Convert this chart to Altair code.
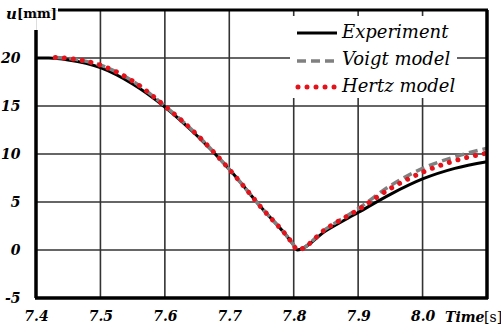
import altair as alt
import pandas as pd

# Displacement histories u(t) around the impact
t_exp = [7.40, 7.42, 7.45, 7.50, 7.55, 7.60, 7.65, 7.70, 7.75, 7.80, 7.805, 7.85, 7.90, 7.95, 8.00, 8.05, 8.10]
u_exp = [20.0, 20.0, 19.8, 19.0, 17.3, 14.9, 11.9, 8.4, 4.4, 0.5, 0.0, 2.0, 3.9, 5.8, 7.4, 8.5, 9.2]

t_mod = [7.43, 7.45, 7.50, 7.55, 7.60, 7.65, 7.70, 7.75, 7.80, 7.805, 7.85, 7.90, 7.95, 8.00, 8.05, 8.10]
u_voigt = [20.05, 19.95, 19.25, 17.6, 15.0, 12.0, 8.4, 4.4, 0.5, 0.0, 2.2, 4.3, 6.7, 8.5, 9.7, 10.6]
u_hertz = [20.05, 19.95, 19.25, 17.6, 15.0, 12.0, 8.4, 4.4, 0.5, 0.0, 2.2, 4.2, 6.4, 8.1, 9.3, 10.1]

series_names = ["Experiment", "Voigt model", "Hertz model"]

x_ticks = [7.4, 7.5, 7.6, 7.7, 7.8, 7.9, 8.0]
y_ticks = [-5, 0, 5, 10, 15, 20]

W, H = 451, 288
FONT = "DejaVu Serif"

xs = alt.Scale(domain=[7.4, 8.1], nice=False, zero=False)
ys = alt.Scale(domain=[-5, 25], nice=False, zero=False)

exp_df = pd.DataFrame({"t": t_exp, "u": u_exp})
voigt_df = pd.DataFrame({"t": t_mod, "u": u_voigt})
hertz_df = pd.DataFrame({"t": t_mod, "u": u_hertz})

x_axis = alt.Axis(
    values=x_ticks, format=".1f", grid=False, domain=False, ticks=False, labelFlush=False,
    labelFont=FONT, labelFontSize=14, labelFontWeight="bold", labelFontStyle="italic",
    labelColor="black", labelPadding=11, title=None)
y_axis = alt.Axis(
    values=y_ticks, grid=False, domain=False, ticks=False, labelFlush=False,
    labelExpr="datum.value < 0 ? '-' + abs(datum.value) : datum.label",
    labelFont=FONT, labelFontSize=14, labelFontWeight="bold", labelFontStyle="italic",
    labelColor="black", labelPadding=16, title=None)

X = alt.X("t:Q", scale=xs, axis=x_axis)
Y = alt.Y("u:Q", scale=ys, axis=y_axis)

# grid lines (none at the left and bottom edges)
vgrid = alt.Chart(pd.DataFrame({"t": x_ticks})).mark_rule(color="#333", strokeWidth=1.6).encode(
    x=X, opacity=alt.condition("datum.t > 7.45", alt.value(1), alt.value(0)))
hgrid = alt.Chart(pd.DataFrame({"u": y_ticks})).mark_rule(color="#333", strokeWidth=1.6).encode(
    y=Y, opacity=alt.condition("datum.u > -1", alt.value(1), alt.value(0)))

# frame: left axis is cut short at the top to leave room for the unit label
frame_left = alt.Chart().mark_rule(color="black", strokeWidth=3.5).encode(
    x=alt.value(0), y=alt.value(20), y2=alt.value(H))
frame_bottom = alt.Chart().mark_rule(color="black", strokeWidth=3.5).encode(
    x=alt.value(-1), x2=alt.value(W + 1), y=alt.value(H))
frame_top = alt.Chart().mark_rule(color="black", strokeWidth=3).encode(
    x=alt.value(22), x2=alt.value(W + 1), y=alt.value(0))
frame_right = alt.Chart().mark_rule(color="black", strokeWidth=3.5).encode(
    x=alt.value(W), y=alt.value(0), y2=alt.value(H + 1))

# legend box
legend_bg = alt.Chart().mark_rect(color="white").encode(
    x=alt.value(254), x2=alt.value(421), y=alt.value(6), y2=alt.value(88))

exp_line = alt.Chart(exp_df).mark_line(color="black", strokeWidth=3, interpolate="monotone").encode(
    x=X, y=Y)
voigt_line = alt.Chart(voigt_df).mark_line(color="#808080", strokeWidth=3.5, strokeDash=[9, 5],
                                           interpolate="monotone").encode(x=X, y=Y)
hertz_line = alt.Chart(hertz_df).mark_line(color="#e3121b", strokeWidth=5, strokeDash=[0.01, 9],
                                           strokeCap="round", interpolate="monotone").encode(x=X, y=Y)

# legend entries
leg_exp = alt.Chart().mark_rule(color="black", strokeWidth=3).encode(
    x=alt.value(261), x2=alt.value(301), y=alt.value(23))
leg_voigt = alt.Chart().mark_rule(color="#808080", strokeWidth=3.5, strokeDash=[9, 5]).encode(
    x=alt.value(261), x2=alt.value(301), y=alt.value(51))
leg_hertz = alt.Chart().mark_rule(color="#e3121b", strokeWidth=5, strokeDash=[0.01, 9],
                                  strokeCap="round").encode(
    x=alt.value(262), x2=alt.value(304), y=alt.value(77))


def legend_text(name, ypos):
    return alt.Chart().mark_text(
        font=FONT, fontSize=18, fontStyle="italic", align="left", baseline="middle", color="black"
    ).encode(x=alt.value(306), y=alt.value(ypos), text=alt.value(name))


leg_texts = [legend_text(n, yp) for n, yp in zip(series_names, [23, 50, 77])]

# axis titles
u_lbl = alt.Chart().mark_text(font=FONT, fontSize=15, fontWeight="bold", fontStyle="italic",
                              align="left", baseline="middle", color="black").encode(
    x=alt.value(-30), y=alt.value(4), text=alt.value("u"))
mm_lbl = alt.Chart().mark_text(font=FONT, fontSize=13, fontWeight="bold",
                               align="left", baseline="middle", color="black").encode(
    x=alt.value(-19), y=alt.value(4), text=alt.value("[mm]"))
time_lbl = alt.Chart().mark_text(font=FONT, fontSize=14, fontWeight="bold", fontStyle="italic",
                                 align="left", baseline="middle", color="black").encode(
    x=alt.value(409), y=alt.value(308), text=alt.value("Time"))
s_lbl = alt.Chart().mark_text(font=FONT, fontSize=14,
                              align="left", baseline="middle", color="black").encode(
    x=alt.value(448), y=alt.value(308), text=alt.value("[s]"))

chart = alt.layer(
    vgrid, hgrid, legend_bg, exp_line, voigt_line, hertz_line,
    frame_left, frame_bottom, frame_top, frame_right,
    leg_exp, leg_voigt, leg_hertz, *leg_texts, u_lbl, mm_lbl, time_lbl, s_lbl
).properties(
    width=W, height=H,
    autosize=alt.AutoSizeParams(type="none"),
    padding={"left": 36, "top": 10, "right": 14, "bottom": 31},
).configure_view(stroke=None).configure(background="white")

chart.save("out.html", embed_options={"renderer": "svg", "actions": False})
